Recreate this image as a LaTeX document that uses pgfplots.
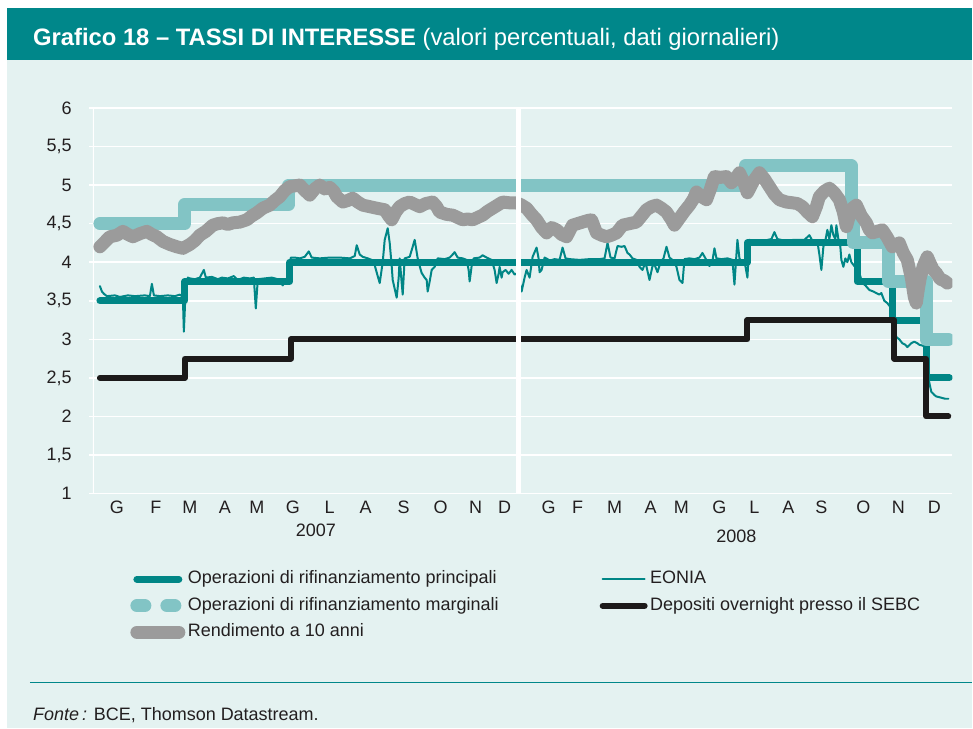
\documentclass[border=0pt]{standalone}
\usepackage{pgfplots}
\pgfplotsset{compat=1.18}
\usepackage{fontspec}
\setmainfont{Liberation Sans}
\definecolor{band}{RGB}{0,135,138}
\definecolor{bg}{RGB}{228,242,241}
\definecolor{mro}{RGB}{0,134,134}
\definecolor{mlf}{RGB}{130,196,197}
\definecolor{yld}{RGB}{155,155,155}
\definecolor{dep}{RGB}{28,26,26}
\definecolor{txt}{RGB}{35,31,32}
\begin{document}
\begin{tikzpicture}
\fill[white] (0pt,0pt) rectangle (973pt,-729pt);
\fill[band] (7pt,-8pt) rectangle (973pt,-60pt);
\fill[bg] (7pt,-60pt) rectangle (973pt,-729pt);
\node[anchor=base west, inner sep=0pt, text=white, font=\fontsize{23.8}{28}\selectfont] at (33pt,-46pt) {\textbf{Grafico 18 – TASSI DI INTERESSE} (valori percentuali, dati giornalieri)};
\begin{axis}[
  at={(93pt,-494pt)}, anchor=south west,
  width=860pt, height=386pt, scale only axis,
  xmin=93, xmax=953, ymin=1, ymax=6,
  axis line style={draw=none},
  ymajorgrids, grid style={white, line width=1.5pt},
  ytick={1,1.5,2,2.5,3,3.5,4,4.5,5,5.5,6},
  /pgf/number format/use comma,
  /pgf/number format/assume math mode=true,
  xtick={117,156,190,225,257,293,330,366,404,441,476,505,549,578,615,651,682,720,755,789,822,864,899,935},
  xticklabels={G,F,M,A,M,G,L,A,S,O,N,D,G,F,M,A,M,G,L,A,S,O,N,D},
  ticklabel style={font=\fontsize{18}{20}\selectfont, text=txt},
  xticklabel style={anchor=north, inner sep=0pt, yshift=-3pt},
  yticklabel style={anchor=east, inner sep=0pt, xshift=-17pt},
  ytick pos=left, tick align=outside, major tick length=4pt,
  ytick style={white, line width=1.5pt}, xtick style={draw=none},
  legend columns=2,
  legend cell align=left,
  legend style={draw=none, fill=none, at={(axis description cs:0.0436,-0.2)}, anchor=north west,
    font=\fontsize{18}{20}\selectfont, text=txt, row sep=9.5pt, inner sep=0pt, outer sep=0pt,
    nodes={inner sep=0pt, text height=13pt, text depth=4pt},
    /tikz/every even column/.append style={column sep=101pt},
    /tikz/every odd column/.append style={column sep=2.5pt}},
  legend image code/.code={\draw[#1] (0pt,0pt) -- (42pt,0pt);},
  every axis plot/.append style={line cap=round, line join=round},
]
\draw[white, line width=1.5pt] (axis cs:93,1) -- (axis cs:93,6);
% EONIA
\addplot[mro, line width=2pt, forget plot] coordinates {
(100,3.69)(102,3.62)(104,3.59)(107,3.56)(115,3.57)(120,3.55)(128,3.57)(135,3.56)(145,3.57)(150,3.56)(152,3.72)(154,3.57)(160,3.56)(168,3.57)(175,3.56)(180,3.58)(183,3.55)(184,3.10)(186,3.70)(188,3.80)
(190,3.79)(195,3.78)(200,3.80)(204,3.90)(206,3.80)(212,3.81)(218,3.78)(222,3.80)(228,3.79)(234,3.82)(238,3.77)(244,3.80)(250,3.79)(254,3.80)(256,3.40)(258,3.78)(265,3.79)(272,3.80)(278,3.78)(283,3.70)(286,3.78)(289,3.80)(291,4.06)
(295,4.06)(300,4.05)(305,4.07)(309,4.14)(312,4.06)(320,4.05)(330,4.06)(340,4.06)(350,4.05)(355,4.08)(357,4.22)(360,4.10)(363,4.07)(368,4.05)(372,4.03)(375,3.96)(378,3.82)(380,3.73)(383,4.00)(385,4.29)(388,4.44)(390,4.25)(392,3.95)(393,3.77)(397,3.54)(399,3.80)(400,4.05)(402,3.73)(403,3.58)(405,4.05)(410,4.07)(413,4.20)(415,4.29)(418,4.05)(420,3.95)(422,3.86)(425,3.80)(427,3.77)(428,3.62)(430,3.75)(432,3.90)(435,3.94)(438,4.05)(445,4.04)(450,4.06)(453,4.10)(455,4.13)(458,4.06)(463,4.05)(467,4.03)(469,3.90)(470,3.75)(472,3.95)(474,4.05)(480,4.06)(483,4.09)(487,4.06)(492,4.03)(495,3.90)(497,3.73)(499,3.85)(500,3.94)(502,3.80)(503,3.87)(506,3.90)(509,3.85)(512,3.90)(515,3.84)(518,3.86)
(522,3.62)(525,3.80)(527,3.90)(530,3.80)(533,4.07)(537,4.19)(539,4.05)(540,3.87)(542,3.90)(545,4.06)(548,4.04)(550,4.02)(555,4.04)(560,4.03)(563,4.19)(566,4.05)(570,4.04)(580,4.03)(590,4.04)(600,4.04)(605,4.05)(608,4.25)(611,4.06)(615,4.05)(618,4.21)(622,4.20)(625,4.21)(628,4.12)(630,4.10)(633,4.05)(637,4.03)(640,3.94)(643,3.90)(646,4.00)(650,3.77)(653,3.95)(655,3.97)(658,3.87)(661,4.00)(664,4.05)(667,4.20)(670,4.06)(674,4.02)(677,3.94)(680,3.77)(683,3.73)(685,4.04)(690,4.05)(695,4.04)(700,4.06)(703,4.12)(706,4.05)(710,3.95)(713,4.02)(715,4.18)(717,4.05)(722,4.04)(728,4.05)(733,4.03)(735,3.71)(737,4.10)(738,4.29)(740,4.05)(743,3.98)(745,4.02)(748,3.80)(750,4.29)
(755,4.27)(765,4.28)(772,4.30)(775,4.39)(778,4.30)(785,4.28)(795,4.29)(805,4.29)(810,4.35)(813,4.28)(818,4.27)(820,4.10)(822,3.90)(824,4.20)(826,4.28)(828,4.42)(830,4.30)(832,4.48)(834,4.35)(836,4.30)(837,4.48)(839,4.30)(841,4.20)(842,4.03)(844,3.94)(846,4.05)(848,4.00)(850,4.10)(852,4.00)(855,3.95)(858,3.90)(860,3.86)(863,3.73)(866,3.70)(870,3.64)(874,3.62)(877,3.60)(880,3.58)(882,3.60)(885,3.50)(888,3.47)(891,3.42)(894,3.20)(897,3.03)(900,3.00)(903,2.95)(906,2.93)(908,2.90)(912,2.95)(915,2.97)(918,2.95)(920,2.93)(923,2.92)(926,2.90)(929,2.50)(932,2.32)(935,2.28)(937,2.26)(940,2.25)(943,2.24)(946,2.23)(949,2.23)
};
% MRO
\addplot[mro, line width=7pt, forget plot] coordinates {
(100,3.50)(185,3.50)(185,3.75)(290,3.75)(290,4.00)(748,4.00)(748,4.25)(858,4.25)(858,3.75)(893,3.75)(893,3.25)(927,3.25)(927,2.50)(950,2.50)
};
% Deposit facility
\addplot[dep, line width=6pt, forget plot] coordinates {
(100,2.50)(185,2.50)(185,2.75)(291,2.75)(291,3.00)(748,3.00)(748,3.25)(895,3.25)(895,2.75)(927,2.75)(927,2.00)(949,2.00)
};
% Marginal lending
\addplot[mlf, line width=13pt, forget plot] coordinates {
(100,4.50)(185,4.50)(185,4.75)(289,4.75)(289,5.00)(746,5.00)(746,5.25)(852,5.25)(852,4.75)(854,4.75)(854,4.25)(889,4.25)(889,3.75)(927,3.75)(927,3.00)(949,3.00)
};
% 10-year yield
\addplot[yld, line width=13pt, forget plot] coordinates {
(100,4.20)(110,4.33)(117,4.35)(123,4.40)(128,4.36)(133,4.33)(140,4.37)(147,4.40)(152,4.36)(157,4.33)(163,4.27)(170,4.23)(177,4.20)(183,4.18)(190,4.23)(195,4.28)(200,4.35)(206,4.40)(213,4.48)(218,4.50)(223,4.51)(228,4.49)(233,4.51)(240,4.52)(247,4.55)(252,4.60)(257,4.64)(263,4.70)(270,4.74)(275,4.80)(280,4.85)(285,4.93)(290,4.98)(295,4.99)(300,5.00)(305,4.93)(310,4.87)(315,4.95)(320,5.00)(325,4.95)(330,4.97)(334,4.92)(337,4.85)(343,4.78)(348,4.80)(353,4.83)(358,4.78)(363,4.74)(370,4.72)(377,4.70)(385,4.68)(389,4.60)(392,4.55)(396,4.65)(400,4.72)(405,4.76)(410,4.78)(415,4.75)(420,4.72)(426,4.76)(433,4.78)(437,4.72)(440,4.65)(447,4.62)(453,4.61)(458,4.58)(463,4.55)(468,4.56)(473,4.55)(478,4.58)(483,4.61)(488,4.66)(493,4.70)(498,4.74)(503,4.78)(510,4.77)(517,4.77)
(522,4.74)(527,4.70)(532,4.62)(537,4.55)(542,4.45)(547,4.38)(552,4.45)(557,4.42)(562,4.36)(567,4.33)(573,4.48)(578,4.50)(583,4.52)(588,4.54)(592,4.55)(597,4.38)(602,4.35)(607,4.33)(612,4.35)(617,4.38)(623,4.48)(630,4.50)(637,4.52)(642,4.60)(647,4.68)(652,4.72)(657,4.74)(662,4.70)(667,4.65)(672,4.55)(675,4.48)(680,4.57)(685,4.66)(690,4.74)(694,4.82)(697,4.91)(702,4.85)(707,4.81)(711,4.95)(715,5.11)(721,5.10)(727,5.11)(732,5.03)(736,5.08)(740,5.16)(744,5.05)(748,4.90)(754,5.05)(760,5.16)(765,5.08)(770,4.98)(775,4.88)(780,4.81)(787,4.78)(793,4.77)(798,4.76)(803,4.72)(808,4.65)(813,4.59)(817,4.72)(820,4.85)(825,4.92)(830,4.96)(835,4.90)(840,4.81)(844,4.65)(847,4.46)(850,4.60)(853,4.70)(857,4.74)(862,4.60)(867,4.51)(870,4.42)(873,4.38)(878,4.40)(883,4.42)(888,4.32)(893,4.20)(897,4.23)(900,4.25)(904,4.12)(908,4.03)(912,3.80)(915,3.55)(917,3.47)(919,3.65)(921,3.80)(924,3.95)(928,4.07)(931,3.98)(934,3.90)(937,3.86)(941,3.78)(945,3.76)(948,3.73)
};
\draw[white, line width=4.3pt] (axis cs:519,1) -- (axis cs:519,6);
\addlegendimage{mro, line width=7pt, line cap=round}
\addlegendentry{Operazioni di rifinanziamento principali}
\addlegendimage{mro, line width=2pt}
\addlegendentry{EONIA}
\addlegendimage{mlf, line width=13pt, line cap=round, dash pattern=on 8pt off 22pt}
\addlegendentry{Operazioni di rifinanziamento marginali}
\addlegendimage{dep, line width=6pt, line cap=round}
\addlegendentry{Depositi overnight presso il SEBC}
\addlegendimage{yld, line width=13pt, line cap=round}
\addlegendentry{Rendimento a 10 anni}
\end{axis}
\node[font=\fontsize{18}{20}\selectfont, text=txt] at (316pt,-531pt) {2007};
\node[font=\fontsize{18}{20}\selectfont, text=txt] at (737pt,-537pt) {2008};
\draw[band, line width=1.5pt] (30pt,-683pt) -- (973pt,-683pt);
\node[anchor=base west, inner sep=0pt, font=\fontsize{18}{20}\selectfont, text=txt] at (33pt,-721pt) {\textit{Fonte\,:} BCE, Thomson Datastream.};
\end{tikzpicture}
\end{document}
